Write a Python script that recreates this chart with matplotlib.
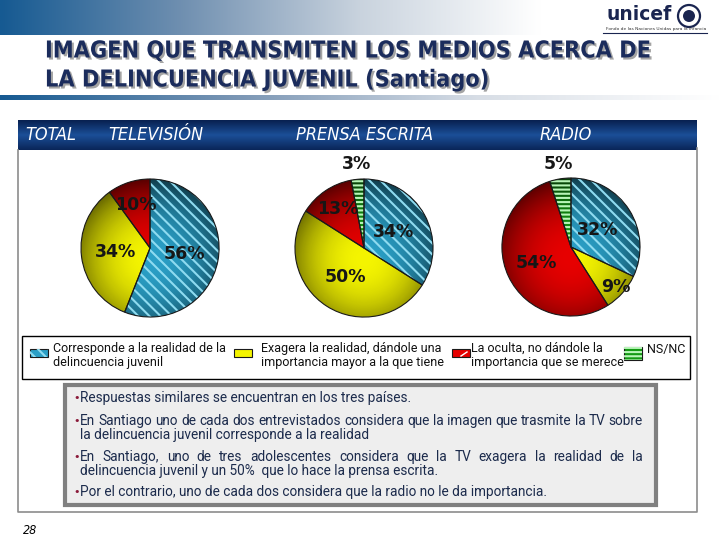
import numpy as np
import matplotlib
matplotlib.use("Agg")
import matplotlib.pyplot as plt
from matplotlib.patches import Rectangle, Circle, Wedge
from matplotlib.colors import LinearSegmentedColormap
import matplotlib.patheffects as pe

# Données (pourcentages)
medios = ["TELEVISIÓN", "PRENSA ESCRITA", "RADIO"]
categorias = ["Corresponde a la realidad de la\ndelincuencia juvenil",
              "Exagera la realidad, dándole una\nimportancia mayor a la que tiene",
              "La oculta, no dándole la\nimportancia que se merece",
              "NS/NC"]
tv = [56, 34, 10, 0]
prensa = [34, 50, 13, 3]
radio = [32, 9, 54, 5]
valores = [tv, prensa, radio]

bullets = [
    ["Respuestas similares se encuentran en los tres países."],
    ["En Santiago uno de cada dos entrevistados considera que la imagen que trasmite la TV sobre",
     "la delincuencia juvenil corresponde a la realidad"],
    ["En Santiago, uno de tres adolescentes considera que la TV exagera la realidad de la",
     "delincuencia juvenil y un 50%  que lo hace la prensa escrita."],
    ["Por el contrario, uno de cada dos considera que la radio no le da importancia."],
]

# Couleurs et mise en page
colores = ["#2a9fc6", "#f4f400", "#e60000", "#129a12"]
rayas = ["#8edbf0", None, None, "#b8f5b8"]
tramas = ["\\\\\\", None, None, "----"]
centros = [(150, 248), (364, 248), (571, 247)]
R = 69
explosion = [[0.09, 0, 0, 0], [0, 0.07, 0, 0], [0, 0, 0.07, 0]]
dist_etiq = [[0.5, 0.5, 0.66, 0], [0.48, 0.5, 0.68, 1.23], [0.46, 0.87, 0.55, 1.22]]
x_medios = [108, 296, 540]
etroite = ["Roboto", "DejaVu Sans"]

H = 540
def Y(y):
    return H - y

plt.rcParams["hatch.linewidth"] = 1.5
fig = plt.figure(figsize=(7.2, 5.4), dpi=100)
ax = fig.add_axes([0, 0, 1, 1])
renderer = fig.canvas.get_renderer()

def degrade(x0, x1, y0, y1, couleurs, vertical=False, z=1):
    cmap = LinearSegmentedColormap.from_list("g", couleurs)
    g = np.linspace(0, 1, 256)
    img = g[:, None] if vertical else g[None, :]
    ax.imshow(img, cmap=cmap, extent=(x0, x1, Y(y1), Y(y0)), aspect="auto",
              zorder=z, interpolation="bilinear")

# bandeau du haut et ligne sous le titre
degrade(0, 720, 0, 35, ["#165a92", "#6f8fb0", "#c9d3de", "#ffffff", "#ffffff"])
degrade(0, 720, 95, 100, ["#165a92", "#7c97b5", "#d8dee6", "#ffffff"])

# titre
ombre = [pe.SimplePatchShadow(offset=(1.5, -1.5), shadow_rgbFace="#9a9a9a", alpha=0.9), pe.Normal()]
for y, t in [(51, "IMAGEN QUE TRANSMITEN LOS MEDIOS ACERCA DE"),
             (80, "LA DELINCUENCIA JUVENIL (Santiago)")]:
    ax.text(45, Y(y), t, fontsize=16.8, fontweight="bold", fontstretch="condensed",
            color="#1b2c5c", va="center", ha="left", zorder=5, path_effects=ombre)

# logo unicef
ax.text(606, Y(15), "unicef", fontsize=13.5, fontweight="bold", color="#1a2550",
        va="center", ha="left", zorder=5)
ax.add_patch(Circle((689, Y(16)), 11, facecolor="none", edgecolor="#1a2550", lw=1.6, zorder=5))
ax.add_patch(Circle((689, Y(16)), 6, facecolor="#1a2550", edgecolor="none", zorder=5))
ax.text(606, Y(29), "Fondo de las Naciones Unidas para la Infancia", fontsize=3.2,
        color="#333333", va="center", ha="left", zorder=5)
ax.plot([603, 707], [Y(33), Y(33)], color="#1a2550", lw=0.8, zorder=5)

# bande bleue des médias
degrade(18, 697, 120, 150, ["#08204f", "#1b4f98", "#0a2558"], vertical=True, z=2)
ax.text(25, Y(135), "TOTAL", color="white", fontsize=13, style="italic",
        fontstretch="condensed", va="center", zorder=5)
for x, m in zip(x_medios, medios):
    ax.text(x, Y(135), m, color="white", fontsize=13, style="italic",
            fontstretch="condensed", va="center", zorder=5)

# cadre gris
ax.plot([18, 18, 697, 697], [Y(150), Y(512), Y(512), Y(148)], color="#8c8c8c", lw=1.2, zorder=2)

def ombrer(w, force=0.45):
    cx, cy = w.center
    r = w.r
    n = 120
    xs = np.linspace(-1, 1, n)
    xx, yy = np.meshgrid(xs, xs)
    d = np.hypot(xx, yy + 0.15)
    img = np.zeros((n, n, 4))
    img[..., 3] = np.clip(force * np.clip(d, 0, 1.2) ** 2.2, 0, 1)
    im = ax.imshow(img, extent=(cx - r, cx + r, cy - r, cy + r), origin="lower",
                   zorder=3, interpolation="bilinear")
    im.set_clip_path(w)

# les trois camemberts
for vals, (cx, cy), expl, dl in zip(valores, centros, explosion, dist_etiq):
    wedges, _ = ax.pie(vals, colors=colores, startangle=90, counterclock=False,
                       center=(cx, Y(cy)), radius=R, explode=expl, frame=True,
                       wedgeprops=dict(edgecolor="none", zorder=2))
    for i, w in enumerate(wedges):
        if vals[i] == 0:
            w.set_visible(False)
            continue
        ombrer(w)
        if tramas[i]:
            ax.add_patch(Wedge(w.center, w.r, w.theta1, w.theta2, facecolor="none",
                               edgecolor=rayas[i], lw=0, hatch=tramas[i], zorder=4))
        ax.add_patch(Wedge(w.center, w.r, w.theta1, w.theta2, facecolor="none",
                           edgecolor="#1a1a1a", lw=0.8, zorder=5))
        ang = np.deg2rad((w.theta1 + w.theta2) / 2)
        lx = w.center[0] + dl[i] * R * np.cos(ang)
        ly = w.center[1] + dl[i] * R * np.sin(ang)
        ax.text(lx, ly, f"{vals[i]}%", fontsize=12.5, fontweight="bold",
                color="#161616", ha="center", va="center", zorder=6)

# légende
ax.add_patch(Rectangle((22, Y(379)), 668, 43, facecolor="white", edgecolor="black", lw=1, zorder=2))
leg_x = [(30, 53), (234, 261), (452, 471), (624, 647)]
for i, ((px, tx), cat) in enumerate(zip(leg_x, categorias)):
    hh = 13 if i == 3 else 8
    yc = 353
    ax.add_patch(Rectangle((px, Y(yc + hh / 2)), 18, hh, facecolor=colores[i],
                           edgecolor="#1a1a1a", lw=0.8, zorder=4))
    if tramas[i]:
        ax.add_patch(Rectangle((px, Y(yc + hh / 2)), 18, hh, facecolor="none",
                               edgecolor=rayas[i], lw=0, hatch=tramas[i], zorder=5))
    if i == 2:
        ax.plot([px + 9, px + 15], [Y(yc + 3), Y(yc - 1)], color="white", lw=1, zorder=5)
    ax.text(tx, Y(349) if i == 3 else Y(355.5), cat, fontsize=9, color="#111111",
            family=etroite, va="center", ha="left", linespacing=1.15, zorder=5)

# encadré de commentaires
ax.add_patch(Rectangle((65, Y(505)), 591, 120, facecolor="#eeeeee", edgecolor="#808080",
                       lw=3, zorder=2))
police = dict(fontsize=9.8, color="#1c2b4c", family=etroite, va="center", zorder=5)

def ligne_justifiee(x0, x1, y, texte):
    mots = texte.split()
    objs = [ax.text(x0, y, m, **police) for m in mots]
    larg = [o.get_window_extent(renderer).width for o in objs]
    esp = (x1 - x0 - sum(larg)) / (len(mots) - 1)
    x = x0
    for o, l in zip(objs, larg):
        o.set_x(x)
        x += l + max(esp, 1.5)

y_lignes = [[398], [421, 435], [457, 471], [492]]
for lignes, ys in zip(bullets, y_lignes):
    ax.text(73, Y(ys[0]), "•", fontsize=8, color="#8b1a3a", va="center", zorder=5)
    for k, (t, y) in enumerate(zip(lignes, ys)):
        if k == 0 and len(lignes) > 1:
            ligne_justifiee(80, 643, Y(y), t)
        else:
            ax.text(80, Y(y), t, **police)

ax.text(23, Y(530), "28", fontsize=9, style="italic", fontstretch="condensed",
        color="black", va="center")

ax.set_xlim(0, 720)
ax.set_ylim(0, 540)
ax.axis("off")
fig.savefig("out.png", dpi=100)
